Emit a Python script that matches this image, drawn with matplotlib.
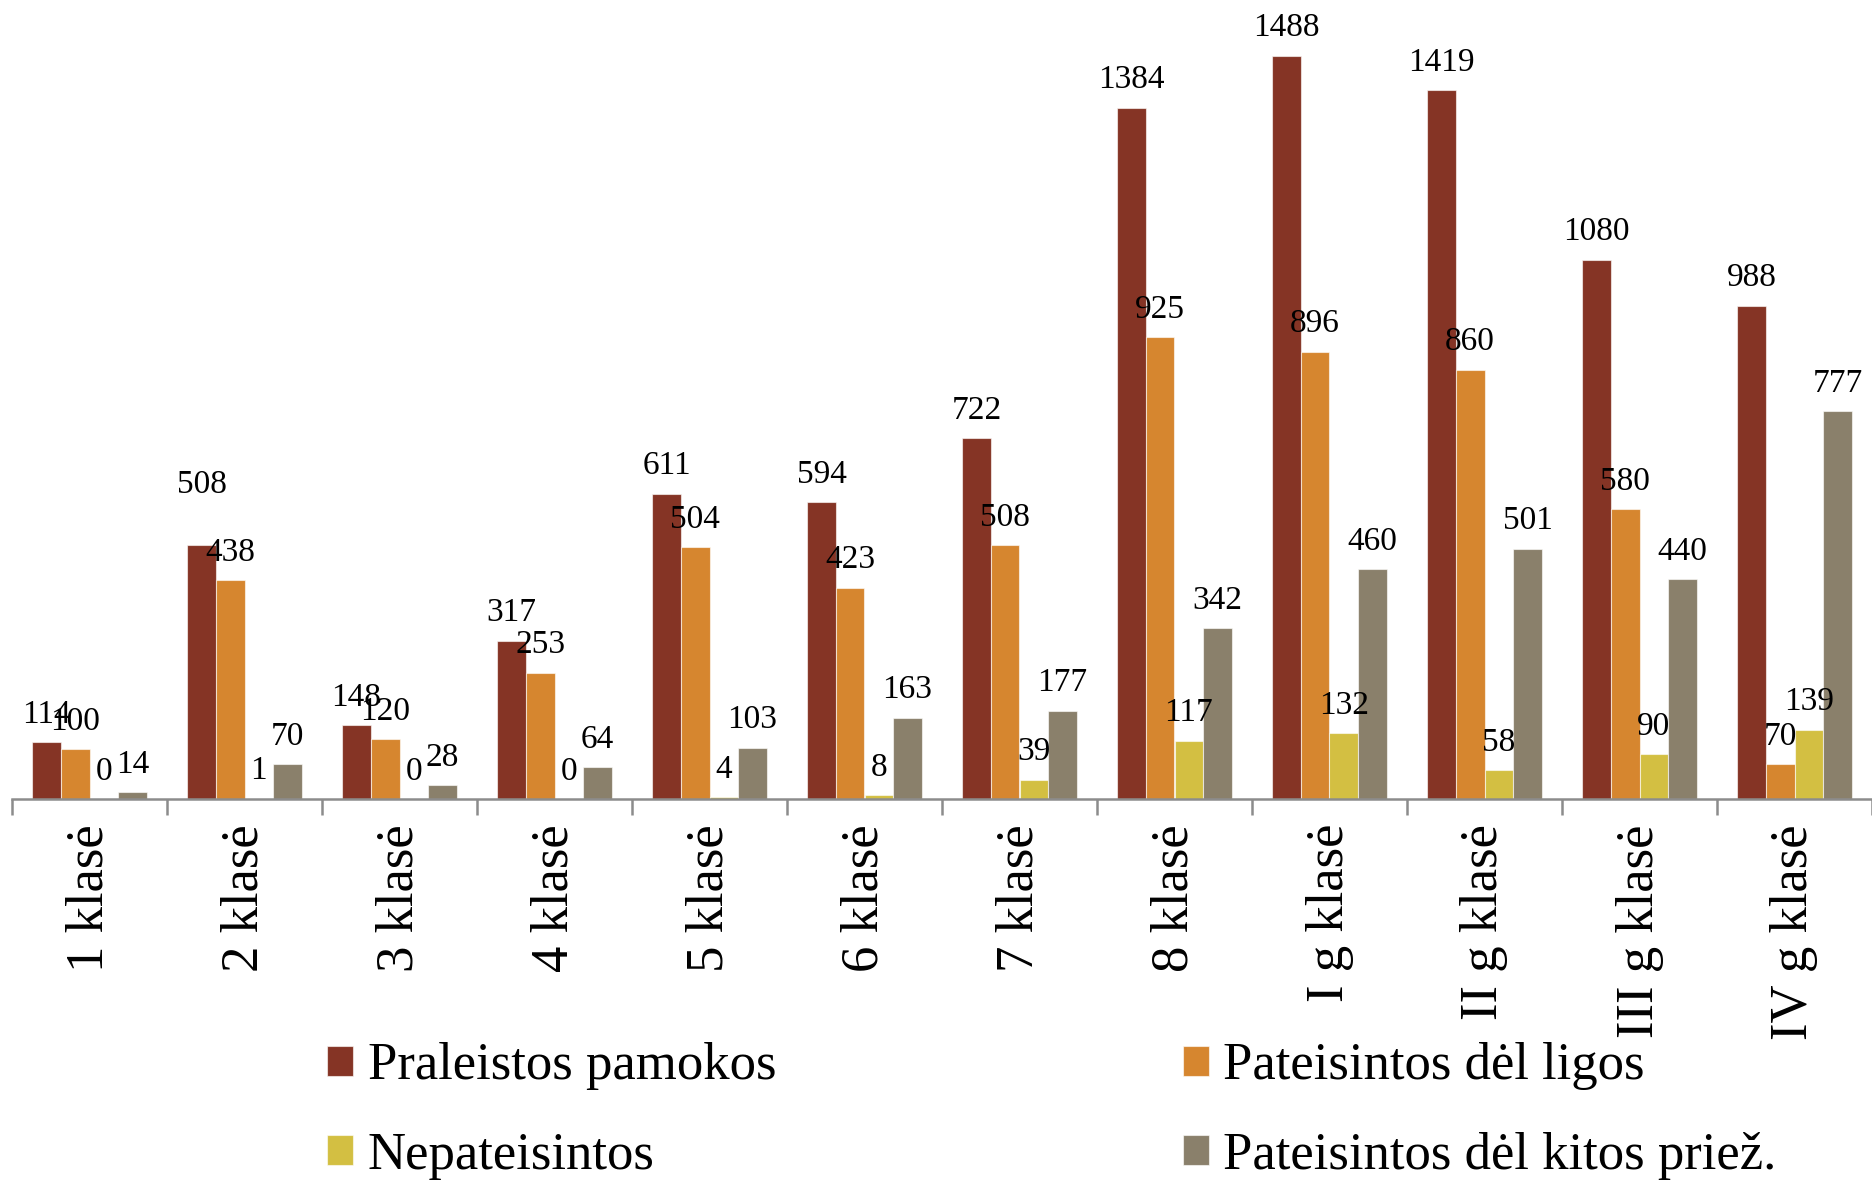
import matplotlib
matplotlib.use("Agg")
import matplotlib.pyplot as plt
import numpy as np

categories = ["1 klasė", "2 klasė", "3 klasė", "4 klasė", "5 klasė", "6 klasė",
              "7 klasė", "8 klasė", "I g klasė", "II g klasė", "III g klasė", "IV g klasė"]
series_names = ["Praleistos pamokos", "Pateisintos dėl ligos",
                "Nepateisintos", "Pateisintos dėl kitos priež."]
praleistos = [114, 508, 148, 317, 611, 594, 722, 1384, 1488, 1419, 1080, 988]
del_ligos = [100, 438, 120, 253, 504, 423, 508, 925, 896, 860, 580, 70]
nepateisintos = [0, 1, 0, 0, 4, 8, 39, 117, 132, 58, 90, 139]
kitos = [14, 70, 28, 64, 103, 163, 177, 342, 460, 501, 440, 777]

colors = ["#853425", "#D6862F", "#D3BF42", "#8A806B"]

plt.rcParams['font.family'] = ['Liberation Serif', 'DejaVu Serif']

fig = plt.figure(figsize=(18.72, 11.8), dpi=100)
ax = fig.add_axes([12 / 1872, 1 - 799 / 1180, 1 - 12 / 1872, 799 / 1180])

x = np.arange(len(categories))
w = 0.185
all_series = [praleistos, del_ligos, nepateisintos, kitos]
handles = []
for i, (vals, col, name) in enumerate(zip(all_series, colors, series_names)):
    pos = x + (i - 1.5) * w
    bars = ax.bar(pos, vals, width=w, color=col, edgecolor=(1, 1, 1, 0.6),
                  linewidth=0.8, label=name, zorder=2)
    handles.append(bars)
    for j, (p, v) in enumerate(zip(pos, vals)):
        extra = 24 if (i == 0 and j == 1) else 0
        ax.annotate(str(v), (p, v), xytext=(0, 14 + extra), textcoords='offset points',
                    ha='center', va='baseline', fontsize=24, color='black',
                    annotation_clip=False)

ax.set_xlim(-0.5, len(categories) - 0.5)
ax.set_ylim(0, 1600)
for s in ['top', 'right', 'left']:
    ax.spines[s].set_visible(False)
ax.spines['bottom'].set_color('#8C8C8C')
ax.spines['bottom'].set_linewidth(1.8)
ax.set_yticks([])
ax.set_xticks(x)
ax.set_xticklabels(categories, rotation=90, fontsize=38)
ax.tick_params(axis='x', which='major', length=0, pad=18)
ax.set_xticks(np.arange(-0.5, len(categories)), minor=True)
ax.tick_params(axis='x', which='minor', length=11.5, width=1.8, color='#8C8C8C')

order = [0, 2, 1, 3]
fig.legend([handles[k] for k in order], [series_names[k] for k in order],
           loc='center left', bbox_to_anchor=(327 / 1872, 1 - 1111 / 1180),
           ncol=2, frameon=False, fontsize=38, handlelength=0.5, handleheight=0.5,
           handletextpad=0.27, columnspacing=7.7, labelspacing=0.78, borderpad=0,
           borderaxespad=0)

fig.savefig("out.png", dpi=100)
